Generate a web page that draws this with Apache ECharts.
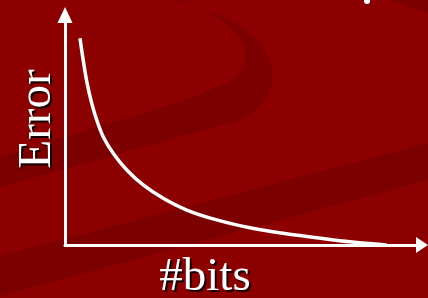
<!DOCTYPE html>
<html>
<head>
<meta charset="utf-8">
<style>
  html, body { margin: 0; padding: 0; background: #8c0000; }
  #chart { width: 428px; height: 298px; }
</style>
<script src="https://cdn.jsdelivr.net/npm/echarts@6/dist/echarts.min.js"></script>
</head>
<body>
<div id="chart"></div>
<script>
// curve (x: #bits, y: error, both on a 0-100 scale)
const bits = [4.2, 5.1, 6.2, 7.5, 8.9, 10.7, 13.5, 17.3, 21.9, 27.5, 34.1, 42.5, 51.8, 61.1, 70.5, 79.8, 90.1];
const error = [89.9, 80.4, 70.3, 61.6, 54.3, 47.1, 39.9, 32.6, 26.1, 20.3, 15.2, 10.9, 7.5, 5.1, 3.2, 1.4, 0];
const xName = '#bits';
const yName = 'Error';

const bg = '#8c0000';
const dark = '#7c0000';
const serif = '"Liberation Serif", "Times New Roman", serif';

// sample a chain of cubic bezier segments into polygon points (background decoration)
function bez(start, segs) {
  const pts = [start];
  let p0 = start;
  segs.forEach(([c1, c2, p3]) => {
    for (let t = 0.1; t <= 1.0001; t += 0.1) {
      const u = 1 - t;
      pts.push([
        u * u * u * p0[0] + 3 * u * u * t * c1[0] + 3 * u * t * t * c2[0] + t * t * t * p3[0],
        u * u * u * p0[1] + 3 * u * u * t * c1[1] + 3 * u * t * t * c2[1] + t * t * t * p3[1],
      ]);
    }
    p0 = p3;
  });
  return pts;
}

const swoosh = bez([172, 0], [
  [[200, 6], [235, 18], [255, 38]],
  [[270, 53], [275, 70], [272, 85]],
  [[268, 100], [258, 110], [240, 120]],
]).concat([[0, 187], [0, 157], [153, 110]]).concat(bez([153, 110], [
  [[185, 100], [215, 90], [235, 78]],
  [[248, 65], [248, 50], [240, 38]],
  [[225, 18], [200, 6], [180, 0]],
]).slice(1));

const chart = echarts.init(document.getElementById('chart'));

// white label with a hard black drop shadow 2px down-right
function label(text, x, y, rotation) {
  const base = {
    text: text,
    font: '47px ' + serif,
    textAlign: 'center',
    verticalAlign: 'middle',
  };
  return [
    { type: 'text', z: 9, x: x + 2, y: y + 2, rotation: rotation,
      style: Object.assign({ fill: 'rgba(0,0,0,0.85)' }, base) },
    { type: 'text', z: 10, x: x, y: y, rotation: rotation,
      style: Object.assign({ fill: '#fff' }, base) },
  ];
}

chart.setOption({
  backgroundColor: bg,
  animation: false,
  grid: { left: 65, right: 6, top: 15, bottom: 53 },
  xAxis: {
    type: 'value',
    min: 0,
    max: 100,
    axisLine: {
      show: true,
      onZero: false,
      symbol: ['none', 'triangle'],
      symbolSize: [16, 12],
      lineStyle: { color: '#fff', width: 3 },
    },
    axisTick: { show: false },
    axisLabel: { show: false },
    splitLine: { show: false },
  },
  yAxis: {
    type: 'value',
    min: 0,
    max: 100,
    axisLine: {
      show: true,
      onZero: false,
      symbol: ['none', 'triangle'],
      symbolSize: [15, 16],
      lineStyle: { color: '#fff', width: 3 },
    },
    axisTick: { show: false },
    axisLabel: { show: false },
    splitLine: { show: false },
  },
  graphic: [
    // background swooshes
    {
      type: 'polygon',
      z: -10,
      shape: { points: swoosh },
      style: { fill: dark },
    },
    {
      type: 'polygon',
      z: -10,
      shape: { points: [[0, 256], [428, 143], [428, 180], [0, 296]] },
      style: { fill: dark },
    },
    {
      type: 'polygon',
      z: -10,
      shape: { points: [[390, 0], [428, 0], [428, 13]] },
      style: { fill: dark },
    },
    {
      type: 'circle',
      z: 5,
      shape: { cx: 367, cy: 1, r: 3 },
      style: { fill: '#fff' },
    },
  ].concat(label(yName, 38, 119, Math.PI / 2), label(xName, 205, 278, 0)),
  series: [
    {
      type: 'line',
      data: bits.map((b, i) => [b, error[i]]),
      smooth: 0.35,
      showSymbol: false,
      lineStyle: { color: '#fff', width: 3.5 },
      z: 3,
    },
  ],
});
</script>
</body>
</html>
